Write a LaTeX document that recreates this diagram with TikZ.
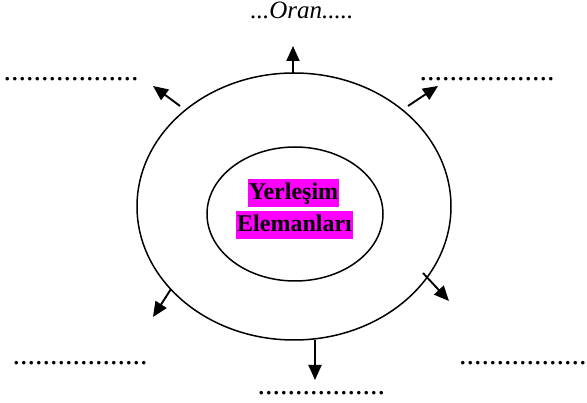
\documentclass[tikz,border=0pt]{standalone}
\usepackage{fontspec}
\setmainfont{Liberation Serif}
\usetikzlibrary{arrows.meta,shapes.geometric}
\definecolor{hlmag}{RGB}{255,0,255}
\begin{document}
\begin{tikzpicture}[x=1pt,y=-1pt,
  ring/.style={draw, line width=1.5pt, ellipse, inner sep=0pt},
  outarrow/.style={line width=1.9pt, -{Triangle[length=15pt,width=13pt]}},
  hl/.style={fill=hlmag, inner xsep=1pt, inner ysep=2pt, text height=18pt, text depth=6pt, font=\fontsize{24}{28}\selectfont\bfseries},
  dotrow/.style={inner sep=0pt, anchor=base west, font=\fontsize{30}{36}\selectfont}]
\useasboundingbox (0,0) rectangle (587,403);
\node[ring, minimum width=314pt, minimum height=267pt] (outer) at (294,206.5) {};
\node[ring, minimum width=176pt, minimum height=134pt] (inner) at (295,214) {};
\node[hl] (t1) at (293.5,193.5) {Yerleşim};
\node[hl] (t2) at (294.5,225.5) {Elemanları};
\node[inner sep=0pt, anchor=base, font=\fontsize{25}{30}\selectfont\itshape] (oran) at (302,19) {...Oran.....};
\node[dotrow] (d1) at (3.5,80.5) {..................};
\node[dotrow] (d2) at (419.5,80.5) {..................};
\node[dotrow] (d3) at (12.5,364.5) {..................};
\node[dotrow] (d4) at (459,364.5) {.................};
\node[dotrow] (d5) at (257.5,394.5) {.................};
\coordinate (a1s) at (293,73);  \coordinate (a1e) at (293,46);
\coordinate (a2s) at (180,106); \coordinate (a2e) at (153,86);
\coordinate (a3s) at (408,106); \coordinate (a3e) at (438,86);
\coordinate (a4s) at (171,289); \coordinate (a4e) at (153,317);
\coordinate (a5s) at (423,273); \coordinate (a5e) at (449,301);
\coordinate (a6s) at (315,340); \coordinate (a6e) at (315,380);
\foreach \i in {1,...,6} {\draw[outarrow] (a\i s) -- (a\i e);}
\end{tikzpicture}
\end{document}
